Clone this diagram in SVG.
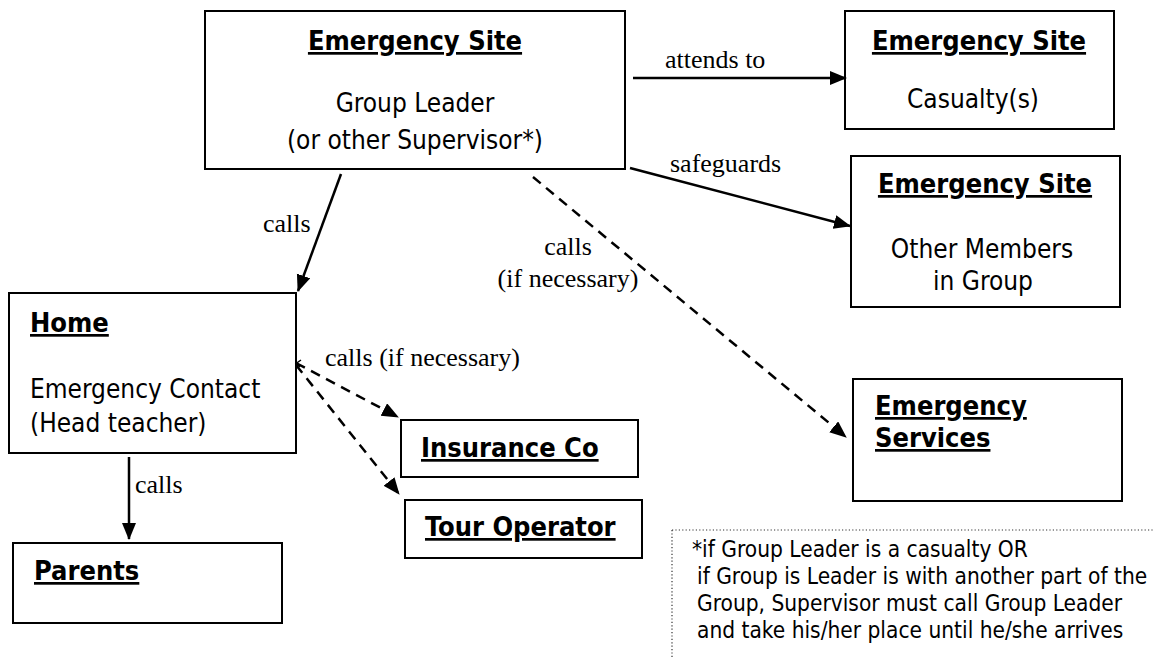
<svg xmlns="http://www.w3.org/2000/svg" width="1153" height="659" viewBox="0 0 1153 659">
  <style>
    .box { fill: #ffffff; stroke: #000000; stroke-width: 2; }
    .hd { font-family: "DejaVu Sans Condensed", "DejaVu Sans", sans-serif; font-stretch: condensed; font-weight: bold; font-size: 27px; text-decoration: underline; text-decoration-thickness: 2.5px; fill: #000; }
    .tx { font-family: "DejaVu Sans Condensed", "DejaVu Sans", sans-serif; font-stretch: condensed; font-size: 26px; fill: #000; }
    .nt { font-family: "DejaVu Sans Condensed", "DejaVu Sans", sans-serif; font-stretch: condensed; font-size: 22.5px; fill: #000; }
    .lb { font-family: "Liberation Serif", "Times New Roman", serif; font-size: 26px; fill: #000; }
    .c { text-anchor: middle; }
    .ln { fill: none; stroke: #000; stroke-width: 2.5; marker-end: url(#ah); }
    .dl { fill: none; stroke: #000; stroke-width: 2.5; stroke-dasharray: 10 7; marker-end: url(#ah); }
  </style>
  <defs>
    <marker id="ah" markerUnits="userSpaceOnUse" markerWidth="20" markerHeight="16" refX="16" refY="7" orient="auto">
      <path d="M0,0 L17,7 L0,14 z" fill="#000"/>
    </marker>
  </defs>
  <rect width="1153" height="659" fill="#ffffff"/>

  <g id="leader">
    <rect class="box" x="205" y="11" width="420" height="158"/>
    <text class="hd c" x="415" y="50">Emergency Site</text>
    <text class="tx c" x="415" y="112">Group Leader</text>
    <text class="tx c" x="415" y="149">(or other Supervisor*)</text>
  </g>

  <g id="casualty">
    <rect class="box" x="845" y="11" width="269" height="118"/>
    <text class="hd c" x="979" y="50">Emergency Site</text>
    <text class="tx c" x="973" y="108">Casualty(s)</text>
  </g>

  <g id="members">
    <rect class="box" x="851" y="156" width="269" height="151"/>
    <text class="hd c" x="985" y="193">Emergency Site</text>
    <text class="tx c" x="982" y="258">Other Members</text>
    <text class="tx c" x="983" y="290">in Group</text>
  </g>

  <g id="home">
    <rect class="box" x="9" y="293" width="287" height="160"/>
    <text class="hd" x="30" y="332">Home</text>
    <text class="tx" x="30" y="398">Emergency Contact</text>
    <text class="tx" x="30" y="432">(Head teacher)</text>
  </g>

  <g id="parents">
    <rect class="box" x="13" y="543" width="269" height="80"/>
    <text class="hd" x="34" y="580">Parents</text>
  </g>

  <g id="insurance">
    <rect class="box" x="401" y="420" width="237" height="57"/>
    <text class="hd" x="421" y="457">Insurance Co</text>
  </g>

  <g id="tour">
    <rect class="box" x="405" y="500" width="237" height="58"/>
    <text class="hd" x="425" y="536">Tour Operator</text>
  </g>

  <g id="services">
    <rect class="box" x="853" y="379" width="269" height="122"/>
    <text class="hd" x="875" y="415">Emergency</text>
    <text class="hd" x="875" y="447">Services</text>
  </g>

  <g id="note">
    <path d="M672,530 L1153,530 M672,530 L672,659" fill="none" stroke="#333" stroke-width="1.2" stroke-dasharray="1.2 2.2"/>
    <text class="nt" x="692" y="557">*if Group Leader is a casualty OR</text>
    <text class="nt" x="697" y="584">if Group is Leader is with another part of the</text>
    <text class="nt" x="697" y="611">Group, Supervisor must call Group Leader</text>
    <text class="nt" x="697" y="638">and take his/her place until he/she arrives</text>
  </g>

  <g id="connectors">
    <path class="ln" d="M633,78 L846,78"/>
    <text class="lb" x="665" y="68">attends to</text>

    <path class="ln" d="M630,168 L850,226"/>
    <text class="lb" x="670" y="172">safeguards</text>

    <path class="ln" d="M341,174 L298,291"/>
    <text class="lb" x="263" y="232">calls</text>

    <path class="dl" d="M533,177 L846,437"/>
    <text class="lb c" x="568" y="255">calls</text>
    <text class="lb c" x="568" y="287">(if necessary)</text>

    <path d="M301,360 L296,363.5 L300,367" fill="none" stroke="#000" stroke-width="1.5"/>
    <path class="dl" d="M296,363 L398,417"/>
    <path class="dl" d="M296,365 L399,494"/>
    <text class="lb" x="325" y="366">calls (if necessary)</text>

    <path class="ln" d="M129,457 L129,539"/>
    <text class="lb" x="135" y="493">calls</text>
  </g>
</svg>
